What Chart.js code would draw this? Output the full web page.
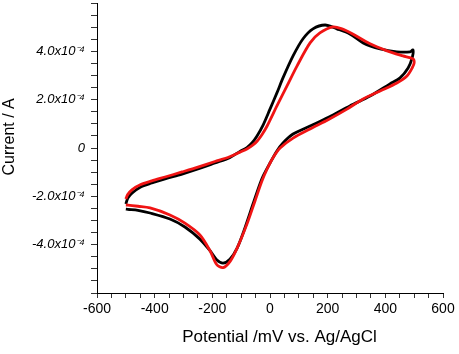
<!DOCTYPE html>
<html>
<head>
<meta charset="utf-8">
<script src="https://cdn.jsdelivr.net/npm/chart.js@4"></script>
<style>
html,body{margin:0;padding:0;background:#fff;}
canvas{display:block;}
</style>
</head>
<body>
<canvas id="c" width="459" height="354"></canvas>
<script>
// Potential (mV vs Ag/AgCl) and current (A)
const blackX = [-500,-493,-478,-450,-410,-364,-305,-250,-191,-140,-104,-80,-62,-45,-24,0,24,45,80,114,149,191,232,277,323,382,440,486,496,
                493,479,451,416,347,277,203,139,80,45,24,0,-24,-35,-59,-87,-114,-139,-163,-185,-208,-243,-295,-347,-416,-458,-493,-500];
const blackY = [-2.32e-4,-2.07e-4,-1.86e-4,-1.62e-4,-1.45e-4,-1.28e-4,-1.08e-4,-0.87e-4,-0.62e-4,-0.40e-4,-0.14e-4,0.02e-4,0.22e-4,0.50e-4,0.95e-4,1.61e-4,2.28e-4,2.90e-4,3.81e-4,4.51e-4,4.93e-4,5.09e-4,4.93e-4,4.72e-4,4.35e-4,4.10e-4,3.98e-4,3.98e-4,4.06e-4,
                3.73e-4,3.31e-4,2.90e-4,2.65e-4,2.15e-4,1.74e-4,1.27e-4,0.91e-4,0.58e-4,0.21e-4,-0.12e-4,-0.62e-4,-1.16e-4,-1.49e-4,-2.32e-4,-3.31e-4,-4.14e-4,-4.60e-4,-4.76e-4,-4.62e-4,-4.25e-4,-3.77e-4,-3.27e-4,-2.94e-4,-2.69e-4,-2.58e-4,-2.54e-4,-2.53e-4];

const redX = [-500,-493,-478,-450,-410,-364,-305,-250,-191,-140,-104,-80,-60,-45,-28,-10,24,59,94,139,173,218,250,282,347,406,461,496,500,
              493,475,440,382,323,267,203,139,80,35,10,-10,-28,-52,-80,-114,-139,-163,-185,-208,-243,-295,-347,-416,-458,-493,-500];
const redY = [-2.11e-4,-1.92e-4,-1.72e-4,-1.52e-4,-1.36e-4,-1.20e-4,-0.99e-4,-0.79e-4,-0.56e-4,-0.36e-4,-0.17e-4,-0.04e-4,0.12e-4,0.28e-4,0.55e-4,0.91e-4,1.74e-4,2.57e-4,3.40e-4,4.35e-4,4.76e-4,5.01e-4,4.93e-4,4.75e-4,4.31e-4,4.02e-4,3.81e-4,3.69e-4,3.52e-4,
              3.31e-4,2.98e-4,2.69e-4,2.36e-4,2.03e-4,1.61e-4,1.18e-4,0.79e-4,0.41e-4,0.00e-4,-0.41e-4,-0.87e-4,-1.37e-4,-2.19e-4,-3.15e-4,-4.14e-4,-4.70e-4,-4.95e-4,-4.82e-4,-4.25e-4,-3.60e-4,-3.11e-4,-2.77e-4,-2.48e-4,-2.41e-4,-2.36e-4,-2.36e-4];

const xTickLabels = ['-600','-400','-200','0','200','400','600'];
const yTickLabels = ['-4.0x10\u207B\u2074','-2.0x10\u207B\u2074','0','2.0x10\u207B\u2074','4.0x10\u207B\u2074'];
const yTickValues = [-4e-4,-2e-4,0,2e-4,4e-4];

const xTitle = 'Potential /mV vs. Ag/AgCl';
const yTitle = 'Current / A';

function pts(xs, ys){ return xs.map((x,i)=>({x:x, y:ys[i]})); }

const FONT = '"Liberation Sans", Arial, Helvetica, sans-serif';
Chart.defaults.color = '#000';
Chart.defaults.font.family = FONT;

new Chart(document.getElementById('c'), {
  type: 'scatter',
  data: {
    datasets: [
      { data: pts(redX, redY), showLine: true, borderColor: '#f01414', borderWidth: 2.8, pointRadius: 0, tension: 0.3, fill: false, order: 0 },
      { data: pts(blackX, blackY), showLine: true, borderColor: '#000', borderWidth: 2.8, pointRadius: 0, tension: 0.3, fill: false, order: 1 }
    ]
  },
  options: {
    responsive: false,
    animation: false,
    devicePixelRatio: 1,
    layout: { padding: { left: 0, right: 16, top: 3, bottom: 0 } },
    plugins: { legend: { display: false }, tooltip: { enabled: false } },
    scales: {
      x: {
        type: 'linear', min: -600, max: 600,
        afterFit: (s) => { s.height = 61; s.paddingLeft = 0; s.paddingRight = 0; },
        border: { display: true, color: '#000', width: 1 },
        grid: { drawOnChartArea: false, drawTicks: true, tickLength: 5, color: '#333' },
        ticks: {
          stepSize: 50, padding: 3, font: { size: 14, family: FONT }, color: '#000', maxRotation: 0, autoSkip: false,
          callback: (v) => { const r = Math.round(v); const i = xTickLabels.indexOf(String(r)); return (r % 200 === 0 && i >= 0) ? xTickLabels[i] : ''; }
        },
        title: { display: true, text: '    ' + xTitle, font: { size: 17, family: FONT }, color: '#000', padding: { top: 0, bottom: 6 } }
      },
      y: {
        type: 'linear', min: -6e-4, max: 6e-4,
        afterFit: (s) => { s.width = 97; s.paddingTop = 0; s.paddingBottom = 0; },
        border: { display: true, color: '#000', width: 1 },
        grid: { drawOnChartArea: false, drawTicks: true, tickLength: 6, color: '#333' },
        ticks: {
          stepSize: 0.5e-4, padding: 6, font: { size: 13, style: 'italic', family: FONT }, color: '#000', autoSkip: false,
          callback: (v) => {
            const m = Math.round(v * 1e5);
            for (let i = 0; i < yTickValues.length; i++) {
              if (Math.round(yTickValues[i] * 1e5) === m) return yTickLabels[i];
            }
            return '';
          }
        },
        title: { display: true, text: '     ' + yTitle, font: { size: 16, family: FONT }, color: '#000', padding: { top: 0, bottom: 0 } }
      }
    }
  }
});
</script>
</body>
</html>
